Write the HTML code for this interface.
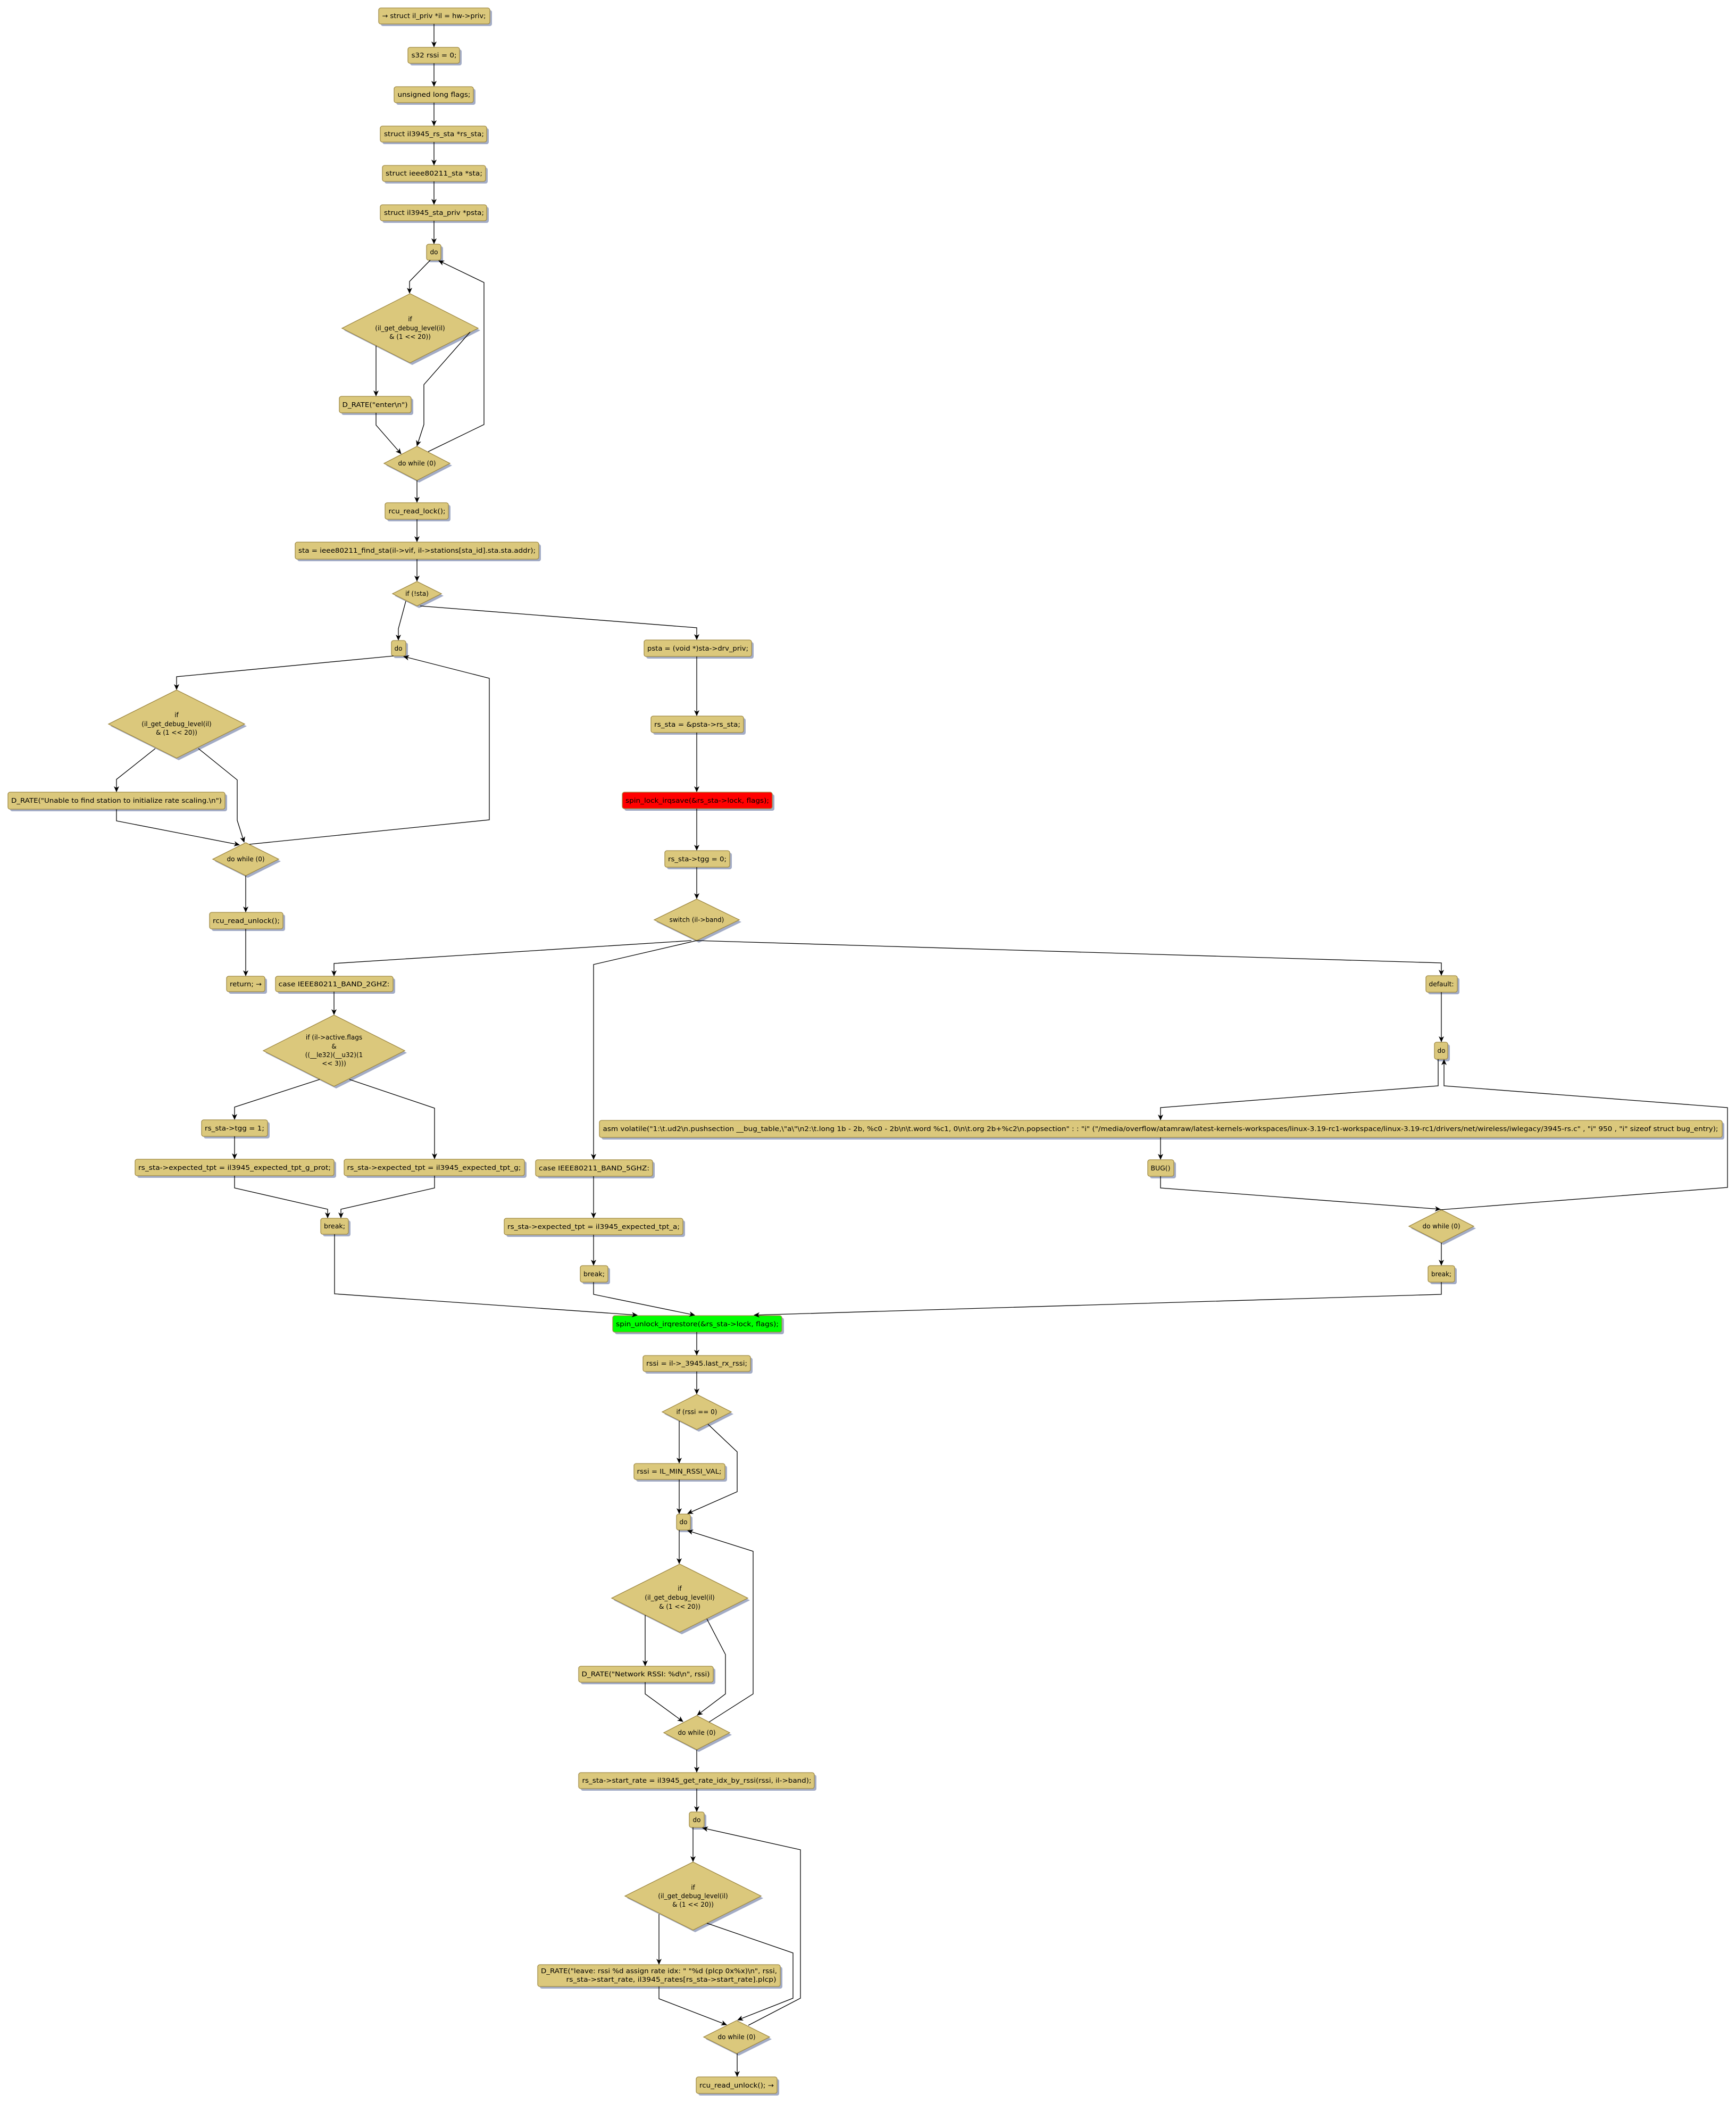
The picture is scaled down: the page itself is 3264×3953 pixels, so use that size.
<!DOCTYPE html>
<html><head><meta charset="utf-8"><style>
html,body{margin:0;padding:0;background:#fff;}
svg{display:block;}
.s{fill:#a3acc6;stroke:none;}
.b{fill:#dbc87c;stroke:#a08a45;stroke-width:1.3;}
.r{fill:#ff0000;stroke:#a08a45;stroke-width:1.3;}
.g{fill:#00ff00;stroke:#a08a45;stroke-width:1.3;}
text{font-family:"DejaVu Sans","Liberation Sans",sans-serif;font-size:12px;fill:#000;text-anchor:middle;}
.e{fill:none;stroke:#000;stroke-width:1.3;marker-end:url(#a);}
</style></head><body>
<svg width="3264" height="3953" viewBox="0 0 3264 3953" xmlns="http://www.w3.org/2000/svg">
<defs><marker id="a" markerUnits="userSpaceOnUse" markerWidth="11" markerHeight="10" viewBox="0 0 11 10" refX="10" refY="5" orient="auto"><path d="M0,0 L11,5 L0,10 L3,5 z" fill="#000"/></marker></defs>

<!-- boxes -->
<g>
<rect class="s" x="716" y="19" width="209" height="30" rx="4"/><rect class="b" x="712" y="15" width="209" height="30" rx="4"/><text x="816" y="34" textLength="195" lengthAdjust="spacingAndGlyphs">→ struct il_priv *il = hw-&gt;priv;</text>
<rect class="s" x="771" y="93" width="97" height="30" rx="4"/><rect class="b" x="767" y="89" width="97" height="30" rx="4"/><text x="816" y="108" textLength="85" lengthAdjust="spacingAndGlyphs">s32 rssi = 0;</text>
<rect class="s" x="745" y="167" width="149" height="30" rx="4"/><rect class="b" x="741" y="163" width="149" height="30" rx="4"/><text x="816" y="182" textLength="137" lengthAdjust="spacingAndGlyphs">unsigned long flags;</text>
<rect class="s" x="719" y="241" width="200" height="30" rx="4"/><rect class="b" x="715" y="237" width="200" height="30" rx="4"/><text x="816" y="256" textLength="188" lengthAdjust="spacingAndGlyphs">struct il3945_rs_sta *rs_sta;</text>
<rect class="s" x="723" y="315" width="194" height="30" rx="4"/><rect class="b" x="719" y="311" width="194" height="30" rx="4"/><text x="816" y="330" textLength="182" lengthAdjust="spacingAndGlyphs">struct ieee80211_sta *sta;</text>
<rect class="s" x="719" y="389" width="200" height="30" rx="4"/><rect class="b" x="715" y="385" width="200" height="30" rx="4"/><text x="816" y="404" textLength="188" lengthAdjust="spacingAndGlyphs">struct il3945_sta_priv *psta;</text>
<rect class="s" x="806" y="463" width="27" height="30" rx="4"/><rect class="b" x="802" y="459" width="27" height="30" rx="4"/><text x="816" y="478">do</text>
<rect class="s" x="642" y="749" width="135" height="31" rx="4"/><rect class="b" x="638" y="745" width="135" height="31" rx="4"/><text x="705" y="765" textLength="123" lengthAdjust="spacingAndGlyphs">D_RATE("enter\n")</text>
<rect class="s" x="728" y="949" width="119" height="31" rx="4"/><rect class="b" x="724" y="945" width="119" height="31" rx="4"/><text x="784" y="965" textLength="107" lengthAdjust="spacingAndGlyphs">rcu_read_lock();</text>
<rect class="s" x="559" y="1023" width="458" height="32" rx="4"/><rect class="b" x="555" y="1019" width="458" height="32" rx="4"/><text x="784" y="1039" textLength="446" lengthAdjust="spacingAndGlyphs">sta = ieee80211_find_sta(il-&gt;vif, il-&gt;stations[sta_id].sta.sta.addr);</text>
<rect class="s" x="740" y="1208" width="27" height="29" rx="4"/><rect class="b" x="736" y="1204" width="27" height="29" rx="4"/><text x="749" y="1223">do</text>
<rect class="s" x="19" y="1493" width="408" height="32" rx="4"/><rect class="b" x="15" y="1489" width="408" height="32" rx="4"/><text x="219" y="1509" textLength="396" lengthAdjust="spacingAndGlyphs">D_RATE("Unable to find station to initialize rate scaling.\n")</text>
<rect class="s" x="398" y="1719" width="138" height="31" rx="4"/><rect class="b" x="394" y="1715" width="138" height="31" rx="4"/><text x="463" y="1735" textLength="126" lengthAdjust="spacingAndGlyphs">rcu_read_unlock();</text>
<rect class="s" x="430" y="1839" width="72" height="29" rx="4"/><rect class="b" x="426" y="1835" width="72" height="29" rx="4"/><text x="462" y="1854" textLength="60" lengthAdjust="spacingAndGlyphs">return; →</text>
<rect class="s" x="522" y="1839" width="221" height="29" rx="4"/><rect class="b" x="518" y="1835" width="221" height="29" rx="4"/><text x="628" y="1854" textLength="209" lengthAdjust="spacingAndGlyphs">case IEEE80211_BAND_2GHZ:</text>
<rect class="s" x="1215" y="1207" width="202" height="31" rx="4"/><rect class="b" x="1211" y="1203" width="202" height="31" rx="4"/><text x="1312" y="1223" textLength="190" lengthAdjust="spacingAndGlyphs">psta = (void *)sta-&gt;drv_priv;</text>
<rect class="s" x="1228" y="1350" width="174" height="31" rx="4"/><rect class="b" x="1224" y="1346" width="174" height="31" rx="4"/><text x="1311" y="1366" textLength="162" lengthAdjust="spacingAndGlyphs">rs_sta = &amp;psta-&gt;rs_sta;</text>
<rect class="s" x="1174" y="1493" width="282" height="31" rx="4"/><rect class="r" x="1170" y="1489" width="282" height="31" rx="4"/><text x="1311" y="1509" textLength="270" lengthAdjust="spacingAndGlyphs">spin_lock_irqsave(&amp;rs_sta-&gt;lock, flags);</text>
<rect class="s" x="1254" y="1603" width="122" height="31" rx="4"/><rect class="b" x="1250" y="1599" width="122" height="31" rx="4"/><text x="1311" y="1619" textLength="110" lengthAdjust="spacingAndGlyphs">rs_sta-&gt;tgg = 0;</text>
<rect class="s" x="2685" y="1838" width="59" height="31" rx="4"/><rect class="b" x="2681" y="1834" width="59" height="31" rx="4"/><text x="2710" y="1854" textLength="47" lengthAdjust="spacingAndGlyphs">default:</text>
<rect class="s" x="2701" y="1963" width="25" height="32" rx="4"/><rect class="b" x="2697" y="1959" width="25" height="32" rx="4"/><text x="2710" y="1979">do</text>
<rect class="s" x="1131" y="2110" width="2111" height="32" rx="4"/><rect class="b" x="1127" y="2106" width="2111" height="32" rx="4"/><text x="2182" y="2126" textLength="2097" lengthAdjust="spacingAndGlyphs">asm volatile("1:\t.ud2\n.pushsection __bug_table,\"a\"\n2:\t.long 1b - 2b, %c0 - 2b\n\t.word %c1, 0\n\t.org 2b+%c2\n.popsection" : : "i" ("/media/overflow/atamraw/latest-kernels-workspaces/linux-3.19-rc1-workspace/linux-3.19-rc1/drivers/net/wireless/iwlegacy/3945-rs.c" , "i" 950 , "i" sizeof struct bug_entry);</text>
<rect class="s" x="2162" y="2184" width="49" height="31" rx="4"/><rect class="b" x="2158" y="2180" width="49" height="31" rx="4"/><text x="2182" y="2200" textLength="37" lengthAdjust="spacingAndGlyphs">BUG()</text>
<rect class="s" x="1011" y="2184" width="220" height="31" rx="4"/><rect class="b" x="1007" y="2180" width="220" height="31" rx="4"/><text x="1117" y="2200" textLength="208" lengthAdjust="spacingAndGlyphs">case IEEE80211_BAND_5GHZ:</text>
<rect class="s" x="952" y="2294" width="336" height="31" rx="4"/><rect class="b" x="948" y="2290" width="336" height="31" rx="4"/><text x="1116" y="2310" textLength="324" lengthAdjust="spacingAndGlyphs">rs_sta-&gt;expected_tpt = il3945_expected_tpt_a;</text>
<rect class="s" x="1095" y="2383" width="52" height="31" rx="4"/><rect class="b" x="1091" y="2379" width="52" height="31" rx="4"/><text x="1117" y="2399" textLength="40" lengthAdjust="spacingAndGlyphs">break;</text>
<rect class="s" x="2689" y="2383" width="50" height="31" rx="4"/><rect class="b" x="2685" y="2379" width="50" height="31" rx="4"/><text x="2710" y="2399" textLength="38" lengthAdjust="spacingAndGlyphs">break;</text>
<rect class="s" x="383" y="2109" width="124" height="31" rx="4"/><rect class="b" x="379" y="2105" width="124" height="31" rx="4"/><text x="441" y="2125" textLength="112" lengthAdjust="spacingAndGlyphs">rs_sta-&gt;tgg = 1;</text>
<rect class="s" x="258" y="2183" width="374" height="31" rx="4"/><rect class="b" x="254" y="2179" width="374" height="31" rx="4"/><text x="441" y="2199" textLength="362" lengthAdjust="spacingAndGlyphs">rs_sta-&gt;expected_tpt = il3945_expected_tpt_g_prot;</text>
<rect class="s" x="651" y="2183" width="339" height="31" rx="4"/><rect class="b" x="647" y="2179" width="339" height="31" rx="4"/><text x="816" y="2199" textLength="327" lengthAdjust="spacingAndGlyphs">rs_sta-&gt;expected_tpt = il3945_expected_tpt_g;</text>
<rect class="s" x="607" y="2294" width="52" height="30" rx="4"/><rect class="b" x="603" y="2290" width="52" height="30" rx="4"/><text x="629" y="2309" textLength="40" lengthAdjust="spacingAndGlyphs">break;</text>
<rect class="s" x="1156" y="2477" width="318" height="31" rx="4"/><rect class="g" x="1152" y="2473" width="318" height="31" rx="4"/><text x="1311" y="2493" textLength="306" lengthAdjust="spacingAndGlyphs">spin_unlock_irqrestore(&amp;rs_sta-&gt;lock, flags);</text>
<rect class="s" x="1213" y="2552" width="202" height="30" rx="4"/><rect class="b" x="1209" y="2548" width="202" height="30" rx="4"/><text x="1310" y="2567" textLength="190" lengthAdjust="spacingAndGlyphs">rssi = il-&gt;_3945.last_rx_rssi;</text>
<rect class="s" x="1196" y="2755" width="171" height="30" rx="4"/><rect class="b" x="1192" y="2751" width="171" height="30" rx="4"/><text x="1277" y="2770" textLength="159" lengthAdjust="spacingAndGlyphs">rssi = IL_MIN_RSSI_VAL;</text>
<rect class="s" x="1276" y="2850" width="26" height="30" rx="4"/><rect class="b" x="1272" y="2846" width="26" height="30" rx="4"/><text x="1285" y="2865">do</text>
<rect class="s" x="1092" y="3136" width="253" height="30" rx="4"/><rect class="b" x="1088" y="3132" width="253" height="30" rx="4"/><text x="1214" y="3151" textLength="241" lengthAdjust="spacingAndGlyphs">D_RATE("Network RSSI: %d\n", rssi)</text>
<rect class="s" x="1092" y="3336" width="443" height="30" rx="4"/><rect class="b" x="1088" y="3332" width="443" height="30" rx="4"/><text x="1310" y="3351" textLength="431" lengthAdjust="spacingAndGlyphs">rs_sta-&gt;start_rate = il3945_get_rate_idx_by_rssi(rssi, il-&gt;band);</text>
<rect class="s" x="1300" y="3410" width="28" height="29" rx="4"/><rect class="b" x="1296" y="3406" width="28" height="29" rx="4"/><text x="1310" y="3425">do</text>
<rect class="s" x="1015" y="3697" width="456" height="41" rx="4"/><rect class="b" x="1011" y="3693" width="456" height="41" rx="4"/><text x="1239" y="3709" textLength="444" lengthAdjust="spacingAndGlyphs">D_RATE("leave: rssi %d assign rate idx: " "%d (plcp 0x%x)\n", rssi,</text><text x="1262" y="3725" textLength="395" lengthAdjust="spacingAndGlyphs">rs_sta-&gt;start_rate, il3945_rates[rs_sta-&gt;start_rate].plcp)</text>
<rect class="s" x="1313" y="3908" width="152" height="31" rx="4"/><rect class="b" x="1309" y="3904" width="152" height="31" rx="4"/><text x="1385" y="3924" textLength="140" lengthAdjust="spacingAndGlyphs">rcu_read_unlock(); →</text>
</g>

<!-- diamonds -->
<g>
<polygon class="s" points="775,556 903,621 775,686 647,621"/><polygon class="b" points="771,552 899,617 771,682 643,617"/><text x="771" y="604">if</text><text x="771" y="621">(il_get_debug_level(il)</text><text x="771" y="637">&amp; (1 &lt;&lt; 20))</text>
<polygon class="s" points="788,843 850,875 788,907 726,875"/><polygon class="b" points="784,839 846,871 784,903 722,871"/><text x="784" y="875">do while (0)</text>
<polygon class="s" points="788,1097 834,1120 788,1143 742,1120"/><polygon class="b" points="784,1093 830,1116 784,1139 738,1116"/><text x="784" y="1120">if (!sta)</text>
<polygon class="s" points="336,1301 464,1365 336,1429 208,1365"/><polygon class="b" points="332,1297 460,1361 332,1425 204,1361"/><text x="332" y="1348">if</text><text x="332" y="1365">(il_get_debug_level(il)</text><text x="332" y="1381">&amp; (1 &lt;&lt; 20))</text>
<polygon class="s" points="466,1588 528,1619 466,1650 404,1619"/><polygon class="b" points="462,1584 524,1615 462,1646 400,1615"/><text x="462" y="1619">do while (0)</text>
<polygon class="s" points="1314,1694 1394,1733 1314,1772 1234,1733"/><polygon class="b" points="1310,1690 1390,1729 1310,1768 1230,1729"/><text x="1310" y="1733">switch (il-&gt;band)</text>
<polygon class="s" points="632,1912 765,1979 632,2046 499,1979"/><polygon class="b" points="628,1908 761,1975 628,2042 495,1975"/><text x="628" y="1954">if (il-&gt;active.flags</text><text x="628" y="1971">&amp;</text><text x="628" y="1987">((__le32)(__u32)(1</text><text x="628" y="2003">&lt;&lt; 3)))</text>
<polygon class="s" points="2714,2278 2775,2309 2714,2340 2653,2309"/><polygon class="b" points="2710,2274 2771,2305 2710,2336 2649,2305"/><text x="2710" y="2309">do while (0)</text>
<polygon class="s" points="1314,2625 1379,2658 1314,2691 1249,2658"/><polygon class="b" points="1310,2621 1375,2654 1310,2687 1245,2654"/><text x="1310" y="2658">if (rssi == 0)</text>
<polygon class="s" points="1282,2944 1410,3008 1282,3072 1154,3008"/><polygon class="b" points="1278,2940 1406,3004 1278,3068 1150,3004"/><text x="1278" y="2990">if</text><text x="1278" y="3007">(il_get_debug_level(il)</text><text x="1278" y="3024">&amp; (1 &lt;&lt; 20))</text>
<polygon class="s" points="1314,3229 1376,3261 1314,3293 1252,3261"/><polygon class="b" points="1310,3225 1372,3257 1310,3289 1248,3257"/><text x="1310" y="3261">do while (0)</text>
<polygon class="s" points="1307,3504 1435,3568 1307,3632 1179,3568"/><polygon class="b" points="1303,3500 1431,3564 1303,3628 1175,3564"/><text x="1303" y="3552">if</text><text x="1303" y="3568">(il_get_debug_level(il)</text><text x="1303" y="3584">&amp; (1 &lt;&lt; 20))</text>
<polygon class="s" points="1389,3802 1451,3833 1389,3864 1327,3833"/><polygon class="b" points="1385,3798 1447,3829 1385,3860 1323,3829"/><text x="1385" y="3833">do while (0)</text>
</g>

<!-- edges -->
<g>
<polyline class="e" points="816,45 816,88"/>
<polyline class="e" points="816,119 816,162"/>
<polyline class="e" points="816,193 816,236"/>
<polyline class="e" points="816,267 816,310"/>
<polyline class="e" points="816,341 816,384"/>
<polyline class="e" points="816,415 816,458"/>
<polyline class="e" points="809,489 770,529 770,551"/>
<polyline class="e" points="707,650 707,744"/>
<polyline class="e" points="884,624 797,723 797,798 784,838"/>
<polyline class="e" points="707,776 707,799 754,853"/>
<polyline class="e" points="805,849 910,798 910,531 825,490"/>
<polyline class="e" points="784,903 784,944"/>
<polyline class="e" points="784,976 784,1018"/>
<polyline class="e" points="784,1051 784,1092"/>
<polyline class="e" points="763,1130 749,1182 749,1203"/>
<polyline class="e" points="790,1139 1310,1180 1310,1202"/>
<polyline class="e" points="740,1233 332,1272 332,1296"/>
<polyline class="e" points="292,1407 219,1465 219,1488"/>
<polyline class="e" points="373,1407 446,1466 446,1542 459,1583"/>
<polyline class="e" points="219,1521 219,1543 450,1588"/>
<polyline class="e" points="469,1587 920,1541 920,1275 759,1234"/>
<polyline class="e" points="462,1646 462,1714"/>
<polyline class="e" points="462,1746 462,1834"/>
<polyline class="e" points="1310,1234 1310,1345"/>
<polyline class="e" points="1310,1377 1310,1488"/>
<polyline class="e" points="1310,1520 1310,1598"/>
<polyline class="e" points="1310,1630 1310,1689"/>
<polyline class="e" points="1300,1768 628,1811 628,1834"/>
<polyline class="e" points="1310,1768 1116,1813 1116,2179"/>
<polyline class="e" points="1310,1768 2710,1810 2710,1833"/>
<polyline class="e" points="2710,1865 2710,1958"/>
<polyline class="e" points="2704,1991 2704,2041 2182,2082 2182,2105"/>
<polyline class="e" points="2182,2138 2182,2179"/>
<polyline class="e" points="2182,2211 2182,2233 2708,2273"/>
<polyline class="e" points="2708,2274 3248,2232 3248,2082 2715,2041 2715,1992"/>
<polyline class="e" points="2710,2336 2710,2378"/>
<polyline class="e" points="628,1864 628,1907"/>
<polyline class="e" points="601,2029 441,2081 441,2104"/>
<polyline class="e" points="657,2029 817,2083 817,2178"/>
<polyline class="e" points="441,2136 441,2178"/>
<polyline class="e" points="441,2210 441,2233 616,2273 616,2289"/>
<polyline class="e" points="817,2210 817,2233 641,2273 641,2289"/>
<polyline class="e" points="629,2320 629,2432 1198,2472"/>
<polyline class="e" points="1116,2211 1116,2289"/>
<polyline class="e" points="1116,2321 1116,2378"/>
<polyline class="e" points="1116,2410 1116,2433 1306,2472"/>
<polyline class="e" points="2710,2410 2710,2433 1418,2472"/>
<polyline class="e" points="1310,2504 1310,2547"/>
<polyline class="e" points="1310,2578 1310,2620"/>
<polyline class="e" points="1277,2671 1277,2750"/>
<polyline class="e" points="1331,2677 1386,2729 1386,2804 1293,2845"/>
<polyline class="e" points="1277,2781 1277,2845"/>
<polyline class="e" points="1277,2876 1277,2939"/>
<polyline class="e" points="1213,3036 1213,3131"/>
<polyline class="e" points="1329,3043 1364,3110 1364,3184 1311,3224"/>
<polyline class="e" points="1213,3162 1213,3184 1284,3236"/>
<polyline class="e" points="1333,3237 1416,3184 1416,2916 1293,2877"/>
<polyline class="e" points="1310,3289 1310,3331"/>
<polyline class="e" points="1310,3362 1310,3405"/>
<polyline class="e" points="1303,3435 1303,3499"/>
<polyline class="e" points="1239,3598 1239,3692"/>
<polyline class="e" points="1239,3734 1239,3757 1366,3806"/>
<polyline class="e" points="1329,3615 1491,3671 1491,3756 1387,3797"/>
<polyline class="e" points="1407,3807 1505,3756 1505,3477 1321,3436"/>
<polyline class="e" points="1386,3860 1386,3903"/>
</g>
</svg>
</body></html>
